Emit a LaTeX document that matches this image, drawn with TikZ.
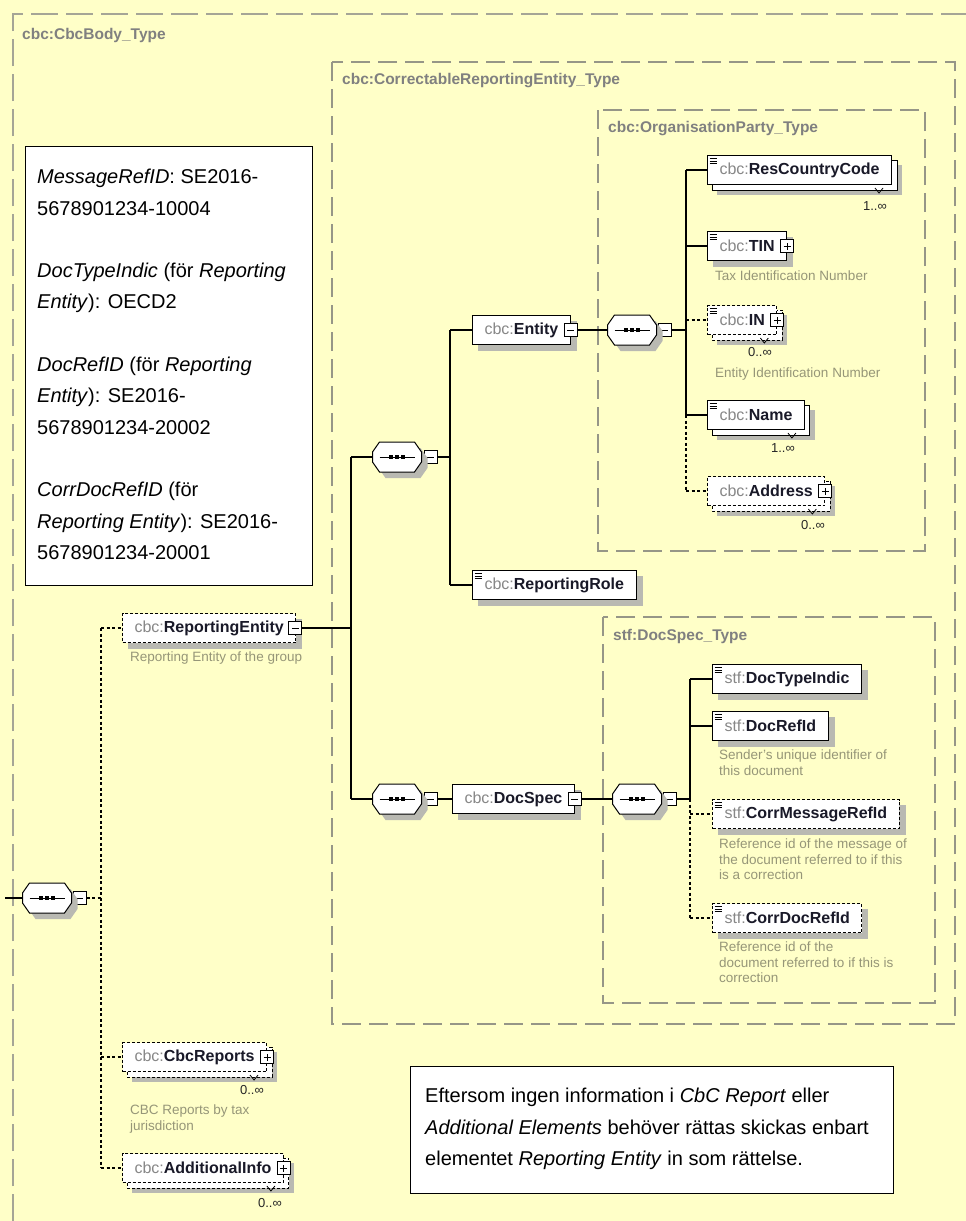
\documentclass[tikz,border=0pt]{standalone}
\usepackage{fontspec}
\setmainfont{Liberation Sans}
\usetikzlibrary{positioning, backgrounds}
\definecolor{bgyellow}{RGB}{255,255,200}
\definecolor{framegray}{RGB}{150,150,135}
\definecolor{outergray}{RGB}{165,165,150}
\definecolor{boxshade}{RGB}{185,185,178}
\definecolor{prefixgray}{RGB}{135,135,135}
\definecolor{descgray}{RGB}{150,150,120}
\definecolor{namedark}{RGB}{25,25,40}

\begin{document}
\begin{tikzpicture}[x=1pt,y=-1pt,
  frame/.style={draw=framegray,line width=1.3pt,dash pattern=on 19pt off 8pt},
  outer/.style={draw=outergray,line width=1.6pt,dash pattern=on 27pt off 8pt},
  ttl/.style={anchor=west,inner sep=0pt,text=black!50,font=\fontsize{15.5}{18}\selectfont\bfseries},
  el/.style={draw,fill=white,anchor=west,line width=1pt,minimum height=29pt,inner xsep=12pt,inner ysep=0pt,text=namedark,font=\fontsize{16}{19}\selectfont},
  opt/.style={dash pattern=on 3pt off 2pt},
  simple/.style={path picture={\foreach \k in {3pt,5.5pt,8pt}
      \draw[solid,line width=1pt] ([xshift=2pt,yshift=-\k]path picture bounding box.north west) -- ++(7pt,0pt);}},
  tog/.style={draw,solid,fill=white,line width=1pt,minimum size=13pt,inner sep=0pt},
  minus/.style={tog,path picture={\draw ([xshift=3pt]path picture bounding box.west) -- ([xshift=-3pt]path picture bounding box.east);}},
  plus/.style={tog,path picture={\draw ([xshift=3pt]path picture bounding box.west) -- ([xshift=-3pt]path picture bounding box.east);
      \draw ([yshift=3pt]path picture bounding box.south) -- ([yshift=-3pt]path picture bounding box.north);}},
  seq/.style={minimum width=49pt,minimum height=30pt,inner sep=0pt},
  link/.style={line width=1.2pt},
  dot/.style={link,dash pattern=on 3pt off 2.5pt},
  mult/.style={inner sep=0pt,font=\fontsize{13}{15}\selectfont,text=black!85},
  desc/.style={anchor=north west,inner sep=0pt,align=left,text=descgray,font=\fontsize{13.5}{15.5}\selectfont},
  note/.style={draw,fill=white,line width=0.8pt,anchor=north west},
  notetext/.style={anchor=north west,inner sep=0pt,align=left,font=\fontsize{20}{31.3}\selectfont}
]
\useasboundingbox (0,0) rectangle (966,1221);

% type frames
\draw[outer] (13,1221) -- (13,14) -- (966,14);
\node[ttl] (tbody) at (22,35) {cbc:CbcBody\_Type};
\draw[frame] (332,62) rectangle (955,1024);
\node[ttl] (tcorr) at (342,81) {cbc:CorrectableReportingEntity\_Type};
\draw[frame] (598,110) rectangle (925,551);
\node[ttl] (torg) at (608,129) {cbc:OrganisationParty\_Type};
\draw[frame] (603,617) rectangle (935,1003);
\node[ttl] (tdoc) at (613,636) {stf:DocSpec\_Type};

% notes
\node[note,minimum width=287pt,minimum height=439pt] (notel) at (25,146) {};
\node[notetext] (notel-t) at (37,169) {\textit{MessageRefID}: SE2016-\\5678901234-10004\\[31.3pt]
  \textit{DocTypeIndic} (för \textit{Reporting}\\\textit{Entity}): OECD2\\[31.3pt]
  \textit{DocRefID} (för \textit{Reporting}\\\textit{Entity}): SE2016-\\5678901234-20002\\[31.3pt]
  \textit{CorrDocRefID} (för\\\textit{Reporting Entity}): SE2016-\\5678901234-20001};
\node[note,minimum width=483pt,minimum height=127pt] (noteb) at (410,1066) {};
\node[notetext] (noteb-t) at (425,1088) {Eftersom ingen information i \textit{CbC Report} eller\\
  \textit{Additional Elements} behöver rättas skickas enbart\\
  elementet \textit{Reporting Entity} in som rättelse.};

% root sequence
\coordinate (entry) at (5,898);
\node[seq] (sroot) at (47,898) {};
\node[minus,right=1pt of sroot] (sroot-t) {};
\coordinate (spr) at (101,898);
\draw[link] (entry) -- (sroot.west);

\node[el,opt] (repent) at (122,628) {{\color{prefixgray}cbc:}\textbf{ReportingEntity}\hspace{6pt}};
\node[minus] (repent-t) at ([xshift=-1pt]repent.east) {};
\node[desc] (repent-d) at (130,652) {Reporting Entity of the group};
\node[el,opt] (reports) at (122,1057) {{\color{prefixgray}cbc:}\textbf{CbcReports}\hspace{6pt}};
\node[plus] (reports-t) at (reports.east) {};
\node[mult] (reports-n) at (252,1090) {0..∞};
\node[desc] (reports-d) at (130,1105) {CBC Reports by tax\\jurisdiction};
\node[el,opt] (addinfo) at (122,1168) {{\color{prefixgray}cbc:}\textbf{AdditionalInfo}\hspace{6pt}};
\node[plus] (addinfo-t) at (addinfo.east) {};
\node[mult] (addinfo-n) at (270,1203) {0..∞};

\draw[dot] (sroot-t.east) -- (spr);
\draw[dot] (repent.west -| spr) -- (addinfo.west -| spr);
\draw[dot] (repent.west -| spr) -- (repent.west);
\draw[dot] (reports.west -| spr) -- (reports.west);
\draw[dot] (addinfo.west -| spr) -- (addinfo.west);

% base and extension sequences
\coordinate (spx) at (351,628);
\node[seq] (sbase) at (397,457) {};
\node[minus,right=2pt of sbase] (sbase-t) {};
\node[seq] (sext) at (397,799) {};
\node[minus,right=2pt of sext] (sext-t) {};
\draw[link] (repent-t.east) -- (spx);
\draw[link] (sbase.west -| spx) -- (sext.west -| spx);
\draw[link] (sbase.west -| spx) -- (sbase.west);
\draw[link] (sext.west -| spx) -- (sext.west);

\node[el] (ent) at (472,330) {{\color{prefixgray}cbc:}\textbf{Entity}\hspace{6pt}};
\node[minus] (ent-t) at (ent.east) {};
\node[el,simple] (role) at (472,585) {{\color{prefixgray}cbc:}\textbf{ReportingRole}};
\coordinate (spb) at (450,457);
\draw[link] (sbase-t.east) -- (spb);
\draw[link] (ent.west -| spb) -- (role.west -| spb);
\draw[link] (ent.west -| spb) -- (ent.west);
\draw[link] (role.west -| spb) -- (role.west);

\node[el] (dspec) at (452,799) {{\color{prefixgray}cbc:}\textbf{DocSpec}\hspace{6pt}};
\node[minus] (dspec-t) at (dspec.east) {};
\draw[link] (sext-t.east) -- (dspec.west);

% OrganisationParty content
\node[seq] (sent) at (632,330) {};
\node[minus,right=1pt of sent] (sent-t) {};
\draw[link] (ent-t.east) -- (sent.west);
\coordinate (spe) at (686,330);
\draw[link] (sent-t.east) -- (spe);

\node[el,simple] (rcc) at (707,170) {{\color{prefixgray}cbc:}\textbf{ResCountryCode}};
\node[mult] (rcc-n) at (875,206) {1..∞};
\node[el,simple] (tin) at (707,246) {{\color{prefixgray}cbc:}\textbf{TIN}\hspace{6pt}};
\node[plus] (tin-t) at (tin.east) {};
\node[desc] (tin-d) at (715,271) {Tax Identification Number};
\node[el,opt,simple] (in) at (707,320) {{\color{prefixgray}cbc:}\textbf{IN}\hspace{6pt}};
\node[plus] (in-t) at (in.east) {};
\node[mult] (in-n) at (760,352) {0..∞};
\node[desc] (in-d) at (715,368) {Entity Identification Number};
\node[el,simple] (name) at (707,415) {{\color{prefixgray}cbc:}\textbf{Name}};
\node[mult] (name-n) at (783,448) {1..∞};
\node[el,opt] (addr) at (707,491) {{\color{prefixgray}cbc:}\textbf{Address}\hspace{6pt}};
\node[plus] (addr-t) at (addr.east) {};
\node[mult] (addr-n) at (813,525) {0..∞};

\draw[link] (rcc.west -| spe) -- (name.west -| spe);
\draw[dot] (name.west -| spe) -- (addr.west -| spe);
\draw[link] (rcc.west -| spe) -- (rcc.west);
\draw[link] (tin.west -| spe) -- (tin.west);
\draw[dot] (in.west -| spe) -- (in.west);
\draw[link] (name.west -| spe) -- (name.west);
\draw[dot] (addr.west -| spe) -- (addr.west);

% DocSpec content
\node[seq] (sdoc) at (637,799) {};
\node[minus,right=1pt of sdoc] (sdoc-t) {};
\draw[link] (dspec-t.east) -- (sdoc.west);
\coordinate (spd) at (690,799);
\draw[link] (sdoc-t.east) -- (spd);

\node[el,simple] (dti) at (712,679) {{\color{prefixgray}stf:}\textbf{DocTypeIndic}};
\node[el,simple] (dri) at (712,726) {{\color{prefixgray}stf:}\textbf{DocRefId}};
\node[desc] (dri-d) at (719,750) {Sender's unique identifier of\\this document};
\node[el,opt,simple] (cmr) at (712,814) {{\color{prefixgray}stf:}\textbf{CorrMessageRefId}};
\node[desc] (cmr-d) at (719,839) {Reference id of the message of\\the document referred to if this\\is a correction};
\node[el,opt,simple] (cdr) at (712,918) {{\color{prefixgray}stf:}\textbf{CorrDocRefId}};
\node[desc] (cdr-d) at (719,942) {Reference id of the\\document referred to if this is\\correction};

\draw[link] (dti.west -| spd) -- (spd);
\draw[dot] (spd) -- (cdr.west -| spd);
\draw[link] (dti.west -| spd) -- (dti.west);
\draw[link] (dri.west -| spd) -- (dri.west);
\draw[dot] (cmr.west -| spd) -- (cmr.west);
\draw[dot] (cdr.west -| spd) -- (cdr.west);

% sequence symbols
\foreach \s in {sroot,sbase,sext,sent,sdoc} {
  \begin{scope}[shift={(\s.center)}]
    \fill[boxshade] (-11.5,-9) -- (23.5,-9) -- (30.5,1) -- (30.5,11) -- (23.5,21)
      -- (-11.5,21) -- (-18.5,11) -- (-18.5,1) -- cycle;
    \draw[fill=white,line width=1pt] (-17.5,-15) -- (17.5,-15) -- (24.5,-5) -- (24.5,5) -- (17.5,15)
      -- (-17.5,15) -- (-24.5,5) -- (-24.5,-5) -- cycle;
    \draw[line width=1pt] (-17.5,0) -- (17.5,0);
    \foreach \d in {-6,0,6} \fill (\d-2,-2) rectangle (\d+2,2);
  \end{scope}
}
% repeated elements: occurrence notch
\foreach \n in {rcc,in,name,addr,reports,addinfo}
  \draw[line width=0.8pt] ([shift={(-17,3)}]\n.south east) -- ++(4,5) -- ++(4,-5);

% shadows and copies
\begin{scope}[on background layer]
  \fill[bgyellow] (0,0) rectangle (966,1221);
  \foreach \n in {repent,ent,role,dspec,tin,dti,dri,cmr,cdr}
    \fill[boxshade] ([shift={(6,6)}]\n.north west) rectangle ([shift={(6,6)}]\n.south east);
  \foreach \n in {rcc,name} {
    \fill[boxshade] ([shift={(10,10)}]\n.north west) rectangle ([shift={(10,10)}]\n.south east);
    \draw[fill=white,line width=1pt] ([shift={(5,5)}]\n.north west) rectangle ([shift={(5,5)}]\n.south east);
  }
  \foreach \n in {in,addr,reports,addinfo} {
    \fill[boxshade] ([shift={(10,10)}]\n.north west) rectangle ([shift={(10,10)}]\n.south east);
    \draw[fill=white,line width=1pt,opt] ([shift={(5,5)}]\n.north west) rectangle ([shift={(5,5)}]\n.south east);
  }
\end{scope}
\end{tikzpicture}
\end{document}
